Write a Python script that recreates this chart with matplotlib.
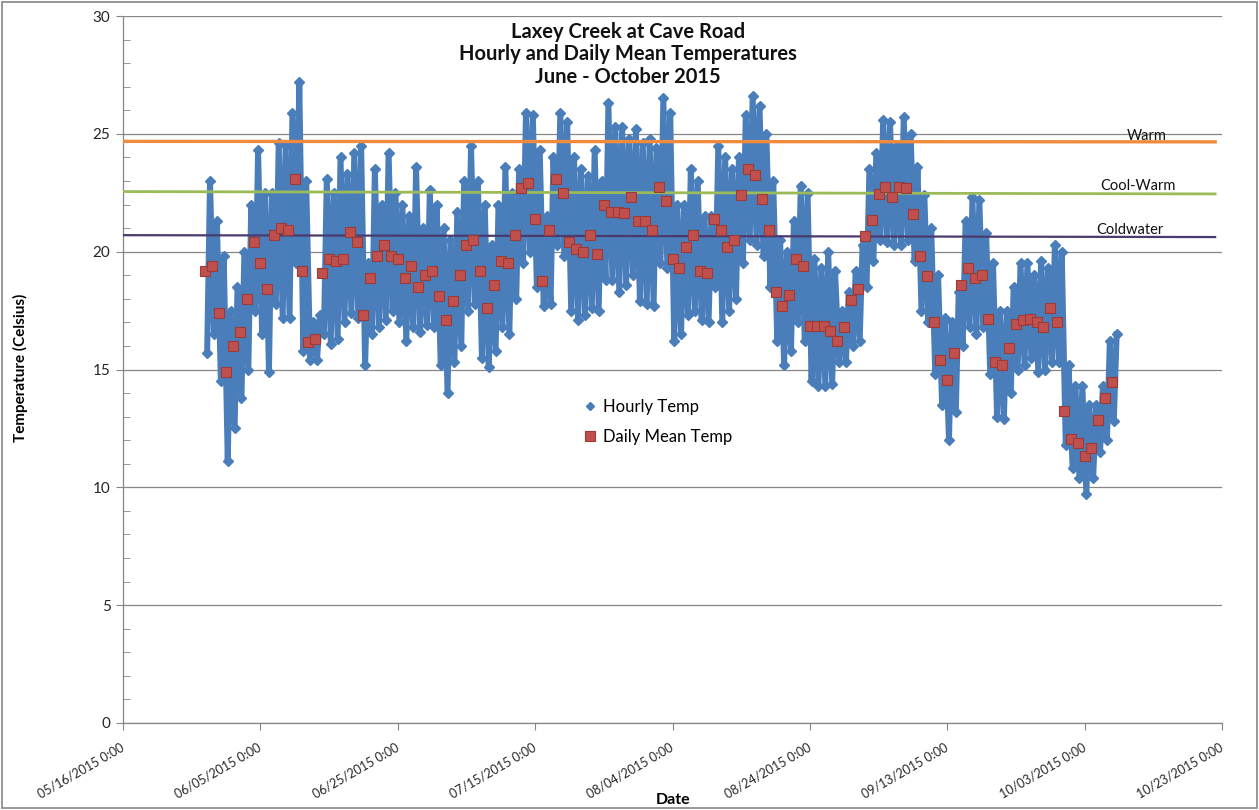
import matplotlib
matplotlib.use('Agg')
import matplotlib.pyplot as plt
import pandas as pd
from matplotlib.lines import Line2D
from matplotlib.patches import Rectangle

plt.rcParams['font.family'] = ['Lato', 'DejaVu Sans']

# ---------------- data ----------------
first_day = '2015-05-28'
daily_mean = [19.2, 19.4, 17.4, 14.9, 16.0, 16.6, 18.0, 20.4, 19.5, 18.4,
              20.7, 21.0, 20.9, 23.1, 19.2, 16.15, 16.3, 19.1, 19.7, 19.6,
              19.7, 20.85, 20.4, 17.3, 18.9, 19.8, 20.3, 19.8, 19.7, 18.9,
              19.4, 18.5, 19.0, 19.2, 18.1, 17.1, 17.9, 19.0, 20.3, 20.5,
              19.2, 17.6, 18.6, 19.6, 19.5, 20.7, 22.7, 22.9, 21.4, 18.75,
              20.9, 23.1, 22.5, 20.4, 20.1, 20.0, 20.7, 19.9, 22.0, 21.7,
              21.7, 21.65, 22.3, 21.3, 21.3, 20.9, 22.75, 22.15, 19.7, 19.3,
              20.2, 20.7, 19.2, 19.1, 21.4, 20.9, 20.2, 20.5, 22.4, 23.5,
              23.25, 22.25, 20.9, 18.3, 17.7, 18.15, 19.7, 19.4, 16.85, 16.85,
              16.85, 16.65, 16.2, 16.8, 17.95, 18.4, 20.65, 21.35, 22.45, 22.75,
              22.3, 22.75, 22.7, 21.6, 19.8, 18.95, 17.0, 15.4, 14.55, 15.7,
              18.6, 19.3, 18.9, 19.0, 17.15, 15.3, 15.2, 15.9, 16.95, 17.1,
              17.15, 17.0, 16.8, 17.6, 17.0, 13.25, 12.05, 11.9, 11.35, 11.65,
              12.85, 13.8, 14.45]
daily_max = [23.0, 21.3, 19.8, 17.5, 18.5, 20.0, 22.0, 24.3, 22.5, 22.5,
             24.6, 24.5, 25.9, 27.2, 23.0, 17.0, 17.3, 23.1, 22.5, 24.0,
             23.3, 24.2, 24.5, 19.5, 23.5, 22.0, 24.2, 22.5, 22.0, 21.5,
             23.6, 21.0, 22.6, 22.0, 21.0, 20.5, 21.7, 23.0, 24.5, 23.0,
             22.0, 20.3, 22.0, 23.6, 22.5, 23.5, 25.9, 25.8, 24.3, 21.5,
             24.0, 25.9, 25.5, 24.0, 23.5, 23.2, 24.3, 23.0, 26.3, 25.3,
             25.3, 24.8, 25.2, 24.6, 24.8, 24.4, 26.5, 25.9, 22.0, 22.0,
             23.5, 23.0, 21.5, 21.5, 24.5, 24.0, 23.5, 24.0, 25.8, 26.6,
             26.2, 25.0, 23.0, 20.5, 20.0, 21.3, 22.8, 22.5, 19.7, 19.3,
             20.0, 19.2, 17.5, 18.3, 19.2, 20.3, 23.5, 24.2, 25.6, 25.5,
             24.5, 25.7, 25.0, 23.6, 22.4, 21.0, 19.0, 17.2, 17.0, 18.3,
             21.3, 22.3, 22.2, 20.8, 19.5, 17.5, 17.5, 18.5, 19.5, 19.5,
             19.0, 19.6, 19.3, 20.3, 20.0, 15.2, 14.3, 14.3, 13.5, 13.5,
             14.3, 16.2, 16.5]
daily_min = [15.7, 16.5, 14.5, 11.1, 12.5, 13.8, 15.0, 17.5, 16.5, 14.9,
             17.8, 17.2, 17.2, 19.5, 15.8, 15.4, 15.4, 16.5, 16.1, 16.3,
             17.0, 17.4, 17.2, 15.2, 16.5, 16.8, 17.1, 17.5, 17.0, 16.2,
             16.8, 16.6, 16.9, 16.8, 15.2, 14.0, 15.3, 16.0, 17.5, 17.8,
             15.5, 15.1, 15.8, 16.8, 16.5, 18.0, 19.5, 20.0, 18.5, 17.7,
             17.8, 20.3, 19.8, 17.5, 17.1, 17.3, 17.6, 17.5, 18.8, 18.8,
             18.3, 18.6, 19.0, 17.9, 17.8, 17.7, 19.5, 19.3, 16.2, 16.5,
             17.3, 17.5, 17.1, 17.0, 18.5, 17.0, 17.5, 18.0, 19.5, 20.5,
             20.3, 19.8, 18.5, 16.2, 15.2, 15.8, 17.0, 16.2, 14.5, 14.3,
             14.3, 14.4, 15.3, 15.3, 16.0, 16.2, 18.5, 19.6, 20.5, 20.4,
             20.3, 20.3, 20.5, 19.6, 17.5, 17.0, 14.8, 13.5, 12.0, 13.2,
             16.0, 16.8, 16.5, 16.8, 14.8, 13.0, 12.9, 14.0, 15.0, 15.2,
             15.5, 14.9, 15.0, 15.3, 15.3, 11.8, 10.8, 10.4, 9.7, 10.4,
             11.5, 12.0, 12.8]
min_hour = 6    # time of day of the daily low reading
max_hour = 16   # time of day of the daily high reading

thresh_names = ['Warm', 'Cool-Warm', 'Coldwater']
thresh_start = [24.68, 22.55, 20.70]
thresh_end = [24.66, 22.45, 20.62]
thresh_dates = ['2015-05-16', '2015-10-22']

tick_dates = ['2015-05-16', '2015-06-05', '2015-06-25', '2015-07-15', '2015-08-04',
              '2015-08-24', '2015-09-13', '2015-10-03', '2015-10-23']
tick_labels = ['05/16/2015 0:00', '06/05/2015 0:00', '06/25/2015 0:00', '07/15/2015 0:00',
               '08/04/2015 0:00', '08/24/2015 0:00', '09/13/2015 0:00', '10/03/2015 0:00',
               '10/23/2015 0:00']

title_lines = ['Laxey Creek at Cave Road', 'Hourly and Daily Mean Temperatures', 'June - October 2015']

# ---------------- styling ----------------
BLUE = '#4A7EBB'
RED = '#C0504D'
RED_EDGE = '#9B3B38'
GRID = '#868686'
thresh_colors = ['#F08A3C', '#9BBB59', '#4B3A6E']
thresh_lw = [2.4, 2.0, 1.6]

W, H = 1259, 810
fig = plt.figure(figsize=(W / 100, H / 100), dpi=100)
ax = fig.add_axes([123 / W, 1 - 723 / H, (1222 - 123) / W, (723 - 16) / H])

days = pd.date_range(first_day, periods=len(daily_mean), freq='D')
t_hourly, v_hourly = [], []
for d, lo, hi in zip(days, daily_min, daily_max):
    t_hourly += [d + pd.Timedelta(hours=min_hour), d + pd.Timedelta(hours=max_hour)]
    v_hourly += [lo, hi]

ax.plot(t_hourly, v_hourly, color=BLUE, lw=4.3, marker='D', ms=5.2,
        mfc=BLUE, mec=BLUE, zorder=3, solid_joinstyle='round')

tx = pd.to_datetime(thresh_dates)
for name, y0, y1, c, lw in zip(thresh_names, thresh_start, thresh_end, thresh_colors, thresh_lw):
    ax.plot(tx, [y0, y1], color=c, lw=lw, zorder=4)

ax.plot(days, daily_mean, ls='none', marker='s', ms=7, mfc=RED, mec=RED_EDGE,
        mew=0.8, zorder=5)

# axes
ax.set_xlim(pd.Timestamp(tick_dates[0]), pd.Timestamp(tick_dates[-1]))
ax.set_ylim(0, 30)
ax.set_yticks(range(0, 31, 5))
ax.set_yticks(range(0, 31, 1), minor=True)
ax.set_xticks(pd.to_datetime(tick_dates))
ax.set_xticklabels(tick_labels, rotation=30, ha='right', va='center',
                   rotation_mode='anchor')
ax.yaxis.grid(True, which='major', color=GRID, lw=0.9)
ax.set_axisbelow(True)
for s in ['top', 'right']:
    ax.spines[s].set_visible(False)
for s in ['left', 'bottom']:
    ax.spines[s].set_color(GRID)
    ax.spines[s].set_linewidth(0.9)
ax.tick_params(axis='y', which='major', direction='out', length=5, color=GRID,
               labelsize=11, labelcolor='#262626', pad=4)
ax.tick_params(axis='y', which='minor', direction='in', length=5, color=GRID)
ax.tick_params(axis='x', which='major', direction='out', length=5, color=GRID,
               labelsize=9, labelcolor='#262626', pad=12)

# titles & labels
for i, line in enumerate(title_lines):
    fig.text(628 / W, 1 - (32 + 22.5 * i) / H, line, ha='center', va='center',
             fontsize=14.5, fontweight='bold', color='#111111')
fig.text(20 / W, 1 - 368 / H, 'Temperature (Celsius)', rotation=90, ha='center',
         va='center', fontsize=11, fontweight='bold')
fig.text(673 / W, 1 - 800 / H, 'Date', ha='center', va='center', fontsize=11.5,
         fontweight='bold')

label_pos = [(1147, 136), (1138, 186), (1130, 230)]
for name, (px, py) in zip(thresh_names, label_pos):
    fig.text(px / W, 1 - py / H, name, ha='center', va='center', fontsize=10.5,
             color='#111111')

handles = [Line2D([], [], ls='none', marker='D', ms=4.5, color=BLUE),
           Line2D([], [], ls='none', marker='s', ms=7.5, mfc=RED, mec=RED_EDGE, mew=0.8)]
fig.legend(handles, ['Hourly Temp', 'Daily Mean Temp'], loc='upper left',
           bbox_to_anchor=(583 / W, 1 - 399 / H), frameon=False, fontsize=12,
           handlelength=0.8, handletextpad=0.4, labelspacing=0.85, borderpad=0,
           borderaxespad=0)

fig.patches.append(Rectangle((2 / W, 2 / H), 1 - 4 / W, 1 - 4 / H, transform=fig.transFigure,
                             fill=False, edgecolor=GRID, lw=1.2))

fig.savefig('out.png', dpi=100)
